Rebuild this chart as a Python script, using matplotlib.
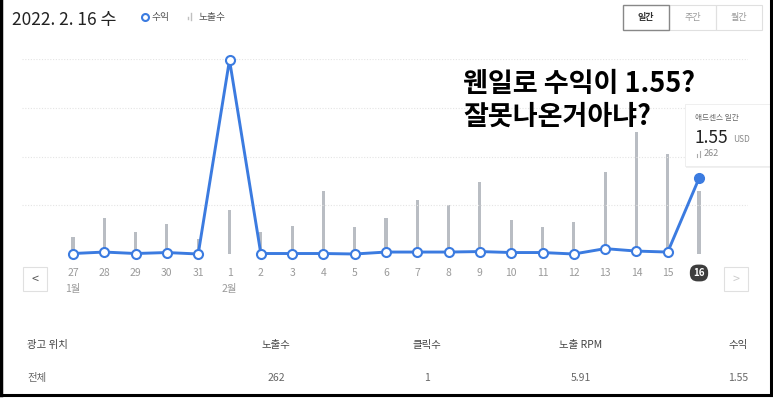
import matplotlib
matplotlib.use("Agg")
import matplotlib.pyplot as plt
from matplotlib.patches import Rectangle
from matplotlib.transforms import blended_transform_factory
import numpy as np

plt.rcParams['font.family'] = ['Noto Sans CJK KR', 'DejaVu Sans']

# data
days = ['27', '28', '29', '30', '31', '1', '2', '3', '4', '5', '6', '7', '8',
        '9', '10', '11', '12', '13', '14', '15', '16']
revenue = [0.01, 0.04, 0.01, 0.03, 0.0, 3.98, 0.01, 0.01, 0.01, 0.0, 0.04,
           0.04, 0.04, 0.05, 0.03, 0.03, 0.0, 0.11, 0.06, 0.04, 1.55]
impressions = [69, 149, 93, 124, 62, 183, 93, 117, 262, 111, 149, 225, 204,
               301, 141, 111, 134, 340, 506, 415, 262]
months = {'27': '1월', '1': '2월'}
table_header = ['광고 위치', '노출수', '클릭수', '노출 RPM', '수익']
table_row = ['전체', '262', '1', '5.91', '1.55']

W, H = 773, 398
BLUE = '#3b7be0'
GREY_BAR = '#b9bdc3'


def fx(px):
    return px / W


def fy(py):
    return 1 - py / H


fig = plt.figure(figsize=(W / 100, H / 100), dpi=100)

# chart axes: gridline span 22..748 px, y from 59 (top) to 254 (zero)
ax = fig.add_axes([fx(22), fy(254), (748 - 22) / W, (254 - 59) / H])
x = np.arange(len(days))
step = 626 / 20
ax.set_xlim(-(73 - 22) / step, 20 + (748 - 699) / step)

widths = [0.1] * (len(days) - 1) + [0.14]
ax.bar(x, impressions, width=widths, color=GREY_BAR, zorder=2)
ax.set_ylim(0, 262 * 195 / 63)
ax.axis('off')

ax2 = ax.twinx()
ax2.set_xlim(ax.get_xlim())
ax2.set_ylim(0, 4.0)
for g in [1, 2, 3, 4]:
    ax2.axhline(g, color='#e4e4e4', lw=0.8, ls=(0, (1, 1.5)), zorder=0)
ax2.plot(x, revenue, color=BLUE, lw=2.1, zorder=3, clip_on=False)
ax2.plot(x[:-1], revenue[:-1], 'o', ms=6.5, mfc='white', mec=BLUE, mew=1.5,
         zorder=4, clip_on=False)
ax2.plot(x[-1:], revenue[-1:], 'o', ms=7, mfc=BLUE, mec=BLUE, zorder=4,
         clip_on=False)
ax2.axis('off')

# x labels
tr = blended_transform_factory(ax.transData, fig.transFigure)
for i, d in enumerate(days):
    if i == len(days) - 1:
        ax.text(i, fy(273), d, transform=tr, ha='center', va='center',
                fontsize=7, color='white', fontweight='bold',
                bbox=dict(boxstyle='round,pad=0.35,rounding_size=0.8',
                          fc='#3d3d3d', ec='none'))
    else:
        ax.text(i, fy(273), d, transform=tr, ha='center', va='center',
                fontsize=7.5, color='#9a9a9a')
    if d in months:
        ax.text(i, fy(289), months[d], transform=tr, ha='center', va='center',
                fontsize=7.5, color='#9a9a9a')

# arrow buttons
for (x0, x1, sym, c) in [(23, 47, '<', '#555555'), (724, 748, '>', '#cccccc')]:
    fig.patches.append(Rectangle((fx(x0), fy(291)), (x1 - x0) / W, 24 / H,
                                 transform=fig.transFigure, fill=False,
                                 ec='#e0e0e0', lw=0.8))
    fig.text(fx((x0 + x1) / 2), fy(279), sym, ha='center', va='center',
             fontsize=9, color=c)

# header
fig.text(fx(12), fy(20), '2022. 2. 16 수', fontsize=12.5, color='#222222',
         va='center', ha='left')
fig.lines.append(plt.Line2D([fx(145)], [fy(17)], marker='o', ms=5, mfc='white',
                            mec=BLUE, mew=1.5, transform=fig.transFigure))
fig.text(fx(152), fy(17), '수익', fontsize=7, color='#555555', va='center')
fig.lines.append(plt.Line2D([fx(188), fx(188)], [fy(19), fy(17)], color='#c0c0c0',
                            lw=1, transform=fig.transFigure))
fig.lines.append(plt.Line2D([fx(191), fx(191)], [fy(20), fy(13)], color='#c0c0c0',
                            lw=1, transform=fig.transFigure))
fig.text(fx(198), fy(17), '노출수', fontsize=7, color='#555555', va='center')

# period buttons
for i, (lab, x0, x1) in enumerate([('일간', 623, 669), ('주간', 669, 716),
                                   ('월간', 716, 762)]):
    fig.patches.append(Rectangle((fx(x0), fy(30)), (x1 - x0) / W, 25 / H,
                                 transform=fig.transFigure, fill=False,
                                 ec='#888888' if i == 0 else '#e0e0e0',
                                 lw=1 if i == 0 else 0.8, zorder=3 if i == 0 else 2))
    fig.text(fx((x0 + x1) / 2), fy(17.5), lab, ha='center', va='center',
             fontsize=6.5, color='#333333' if i == 0 else '#999999',
             fontweight='bold' if i == 0 else 'normal')

# annotation
fig.text(fx(463), fy(84), '웬일로 수익이 1.55?', fontsize=19.5, color='black',
         fontweight='bold', va='center', ha='left')
fig.text(fx(463), fy(117), '잘못나온거아냐?', fontsize=19.5, color='black',
         fontweight='bold', va='center', ha='left')

# tooltip
fig.patches.append(Rectangle((fx(686), fy(168)), 90 / W, 62 / H,
                             transform=fig.transFigure, fc='#f0f0f0', ec='none',
                             zorder=4))
fig.patches.append(Rectangle((fx(685), fy(166)), 90 / W, 62 / H,
                             transform=fig.transFigure, fc='white', ec='#ececec',
                             lw=0.6, zorder=5))
fig.text(fx(695), fy(118), '애드센스 일간', fontsize=5.5, color='#666666',
         va='center', zorder=6)
fig.text(fx(694), fy(138), '1.55', fontsize=12.5, color='#222222', va='center',
         fontweight='medium', zorder=6)
fig.text(fx(733), fy(140), 'USD', fontsize=6, color='#888888', va='center',
         zorder=6)
fig.lines.append(plt.Line2D([fx(697), fx(697)], [fy(157), fy(154)], color='#aaaaaa',
                            lw=0.8, transform=fig.transFigure, zorder=6))
fig.lines.append(plt.Line2D([fx(700), fx(700)], [fy(157), fy(151)], color='#aaaaaa',
                            lw=0.8, transform=fig.transFigure, zorder=6))
fig.text(fx(704), fy(154), '262', fontsize=6.5, color='#888888', va='center',
         zorder=6)

# table
hx = [(27, 'left'), (276, 'center'), (427, 'center'), (581, 'center'),
      (748, 'right')]
for (px, ha), h, v in zip(hx, table_header, table_row):
    fig.text(fx(px), fy(345), h, fontsize=7.5, color='#444444', ha=ha,
             va='center')
    fig.text(fx(px), fy(378), v, fontsize=7.5, color='#666666', ha=ha,
             va='center')

# black frame (left, right, bottom)
fig.lines.append(plt.Line2D([fx(1), fx(1)], [fy(0), fy(395)], color='black', lw=2.5,
                            transform=fig.transFigure, zorder=10))
fig.lines.append(plt.Line2D([fx(770.5), fx(770.5)], [fy(0), fy(395)], color='black',
                            lw=2.2, transform=fig.transFigure, zorder=10))
fig.lines.append(plt.Line2D([fx(0), fx(772)], [fy(394.5), fy(394.5)], color='black',
                            lw=2.2, transform=fig.transFigure, zorder=10))

fig.savefig('out.png', dpi=100)
